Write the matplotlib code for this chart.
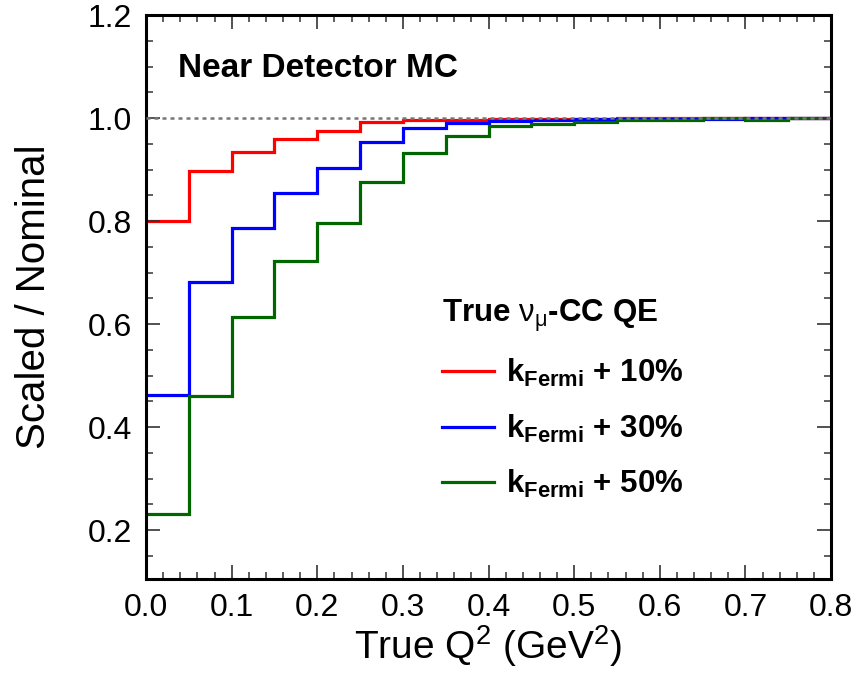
import matplotlib
matplotlib.use("Agg")
import matplotlib.pyplot as plt
import numpy as np

# ---- data ----
bin_edges = [0.00, 0.05, 0.10, 0.15, 0.20, 0.25, 0.30, 0.35, 0.40, 0.45,
             0.50, 0.55, 0.60, 0.65, 0.70, 0.75, 0.80]
kf10 = [0.800, 0.897, 0.934, 0.959, 0.975, 0.993, 0.996, 0.996, 0.998, 0.999,
        0.999, 1.000, 1.000, 1.000, 1.000, 1.000]
kf30 = [0.462, 0.682, 0.786, 0.854, 0.903, 0.954, 0.980, 0.991, 0.994, 0.997,
        0.998, 0.998, 0.999, 0.999, 1.000, 1.000]
kf50 = [0.231, 0.460, 0.614, 0.722, 0.797, 0.876, 0.933, 0.965, 0.984, 0.989,
        0.992, 0.996, 0.996, 1.000, 0.997, 1.000]
series_labels = [r"k$_{\mathbf{Fermi}}$ + 10%", r"k$_{\mathbf{Fermi}}$ + 30%",
                 r"k$_{\mathbf{Fermi}}$ + 50%"]
series_colors = ["#ff0000", "#0000ff", "#006600"]
x_ticks = [0.0, 0.1, 0.2, 0.3, 0.4, 0.5, 0.6, 0.7, 0.8]
y_ticks = [0.2, 0.4, 0.6, 0.8, 1.0, 1.2]

plt.rcParams["font.family"] = ["Liberation Sans", "DejaVu Sans"]
plt.rcParams["mathtext.fontset"] = "custom"
plt.rcParams["mathtext.rm"] = "Liberation Sans"
plt.rcParams["mathtext.it"] = "Liberation Sans"
plt.rcParams["mathtext.bf"] = "Liberation Sans:bold"
plt.rcParams["mathtext.default"] = "rm"

fig = plt.figure(figsize=(8.56, 6.83), dpi=100)
ax = fig.add_axes([0.1706, 0.1523, 0.8002, 0.8257])

for vals, col, lab in zip([kf10, kf30, kf50], series_colors, series_labels):
    ax.stairs(vals, bin_edges, color=col, linewidth=2.3, label=lab, baseline=None)

ax.axhline(1.0, color="#777777", linestyle=(0, (1.6, 1.6)), linewidth=1.8, zorder=5)

ax.set_xlim(0.0, 0.8)
ax.set_ylim(0.105, 1.2)
ax.set_xticks(x_ticks)
ax.set_xticklabels([f"{t:.1f}" for t in x_ticks])
ax.set_yticks(y_ticks)
ax.set_yticklabels([f"{t:.1f}" for t in y_ticks])
ax.xaxis.set_minor_locator(matplotlib.ticker.MultipleLocator(0.02))
ax.yaxis.set_minor_locator(matplotlib.ticker.MultipleLocator(0.05))
ax.tick_params(which="both", direction="in", top=True, right=True,
               color="#333333", labelsize=23)
ax.tick_params(which="major", length=10, width=1.2, pad=10)
ax.tick_params(which="minor", length=5, width=1.1)
for sp in ax.spines.values():
    sp.set_linewidth(2.2)

ax.set_xlabel(r"True Q$^2$ (GeV$^2$)", fontsize=28, labelpad=0)
ax.set_ylabel("Scaled / Nominal", fontsize=29, labelpad=25)

ax.text(0.046, 0.905, "Near Detector MC", transform=ax.transAxes,
        fontsize=24, fontweight="bold", va="center", ha="left")

leg = ax.legend(handles=[plt.Line2D([], [], color=c, lw=2.3) for c in series_colors],
                labels=series_labels, title=r"True $\nu_{\mu}$-CC QE",
                loc="lower left", bbox_to_anchor=(0.414, 0.118),
                frameon=False, prop={"size": 22.5, "weight": "bold"},
                title_fontproperties={"size": 22.5, "weight": "bold"},
                handlelength=1.65, handletextpad=0.4, labelspacing=0.74,
                borderaxespad=0.0)
leg._legend_box.align = "left"

fig.savefig("out.png", dpi=100)
